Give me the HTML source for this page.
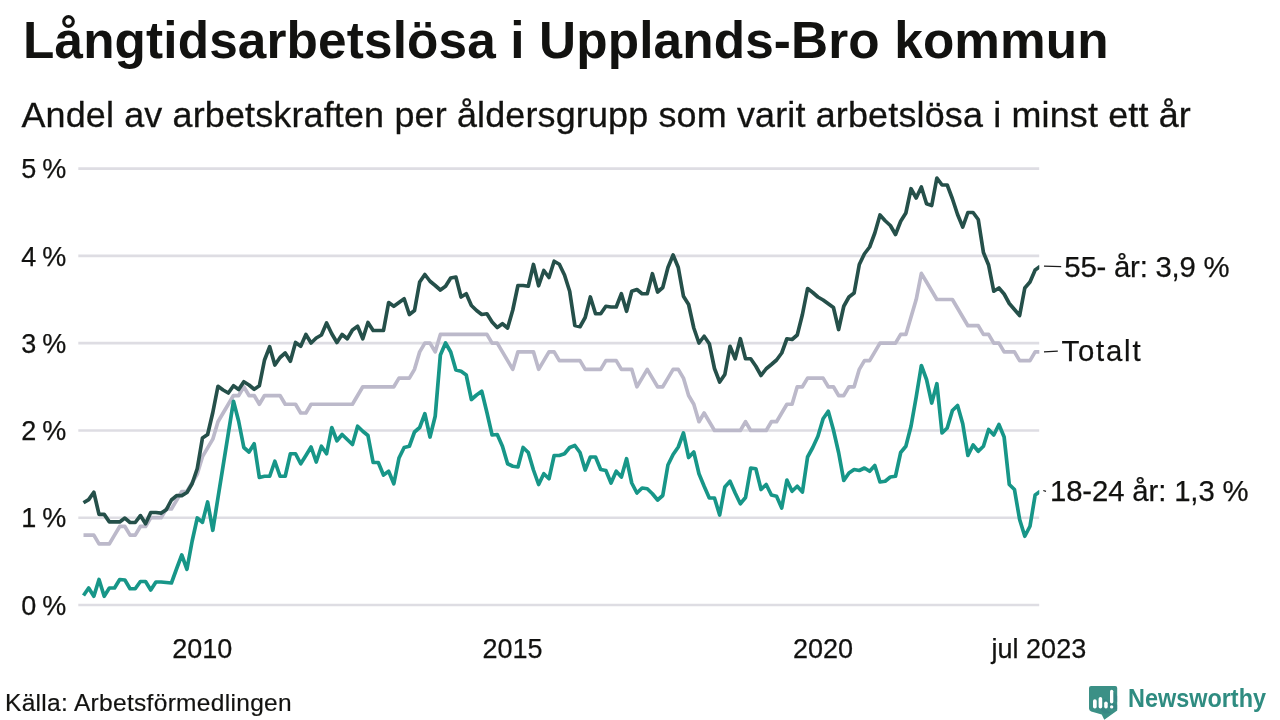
<!DOCTYPE html>
<html><head><meta charset="utf-8"><style>
html,body{margin:0;padding:0;background:#ffffff;}
body{width:1280px;height:720px;overflow:hidden;position:relative;font-family:"Liberation Sans",sans-serif;}
svg{position:absolute;left:0;top:0;will-change:transform;}
text{font-family:"Liberation Sans",sans-serif;fill:#121210;}
.title{font-weight:bold;font-size:51.3px;letter-spacing:0.14px;}
.sub{font-size:35.9px;letter-spacing:0.17px;stroke:#121210;stroke-width:0.3px;}
.ax{font-size:27px;stroke:#121210;stroke-width:0.25px;}
.yl{word-spacing:-1.6px;}
.lab{font-size:29.3px;stroke:#121210;stroke-width:0.25px;}
.src{font-size:24.5px;letter-spacing:0.31px;stroke:#121210;stroke-width:0.2px;}
.nw{font-weight:bold;font-size:26px;fill:#2f8c81;}
</style></head><body>
<svg width="1280" height="720" viewBox="0 0 1280 720">
<text x="23.0" y="57.5" class="title">Långtidsarbetslösa i Upplands-Bro kommun</text>
<text x="21.4" y="127.4" class="sub">Andel av arbetskraften per åldersgrupp som varit arbetslösa i minst ett år</text>
<line x1="78.3" y1="605.00" x2="1039.2" y2="605.00" stroke="#dedde3" stroke-width="2.6"/>
<line x1="78.3" y1="517.72" x2="1039.2" y2="517.72" stroke="#dedde3" stroke-width="2.6"/>
<line x1="78.3" y1="430.44" x2="1039.2" y2="430.44" stroke="#dedde3" stroke-width="2.6"/>
<line x1="78.3" y1="343.16" x2="1039.2" y2="343.16" stroke="#dedde3" stroke-width="2.6"/>
<line x1="78.3" y1="255.88" x2="1039.2" y2="255.88" stroke="#dedde3" stroke-width="2.6"/>
<line x1="78.3" y1="168.60" x2="1039.2" y2="168.60" stroke="#dedde3" stroke-width="2.6"/>
<text x="66.3" y="614.70" text-anchor="end" class="ax yl">0&#160;%</text>
<text x="66.3" y="527.42" text-anchor="end" class="ax yl">1&#160;%</text>
<text x="66.3" y="440.14" text-anchor="end" class="ax yl">2&#160;%</text>
<text x="66.3" y="352.86" text-anchor="end" class="ax yl">3&#160;%</text>
<text x="66.3" y="265.58" text-anchor="end" class="ax yl">4&#160;%</text>
<text x="66.3" y="178.30" text-anchor="end" class="ax yl">5&#160;%</text>
<text x="202.30" y="658.2" text-anchor="middle" class="ax">2010</text>
<text x="512.50" y="658.2" text-anchor="middle" class="ax">2015</text>
<text x="823.00" y="658.2" text-anchor="middle" class="ax">2020</text>
<text x="1038.90" y="658.2" text-anchor="middle" class="ax">jul 2023</text>

<defs><clipPath id="pc"><rect x="70" y="150" width="969.3" height="470"/></clipPath></defs>
<g clip-path="url(#pc)">
<polyline fill="none" stroke="#bcb9ca" stroke-width="3.7" stroke-linejoin="round" stroke-linecap="butt" points="83.50,535.18 88.67,535.18 93.84,535.18 99.02,543.90 104.19,543.90 109.36,543.90 114.53,535.18 119.70,526.45 124.88,526.45 130.05,535.18 135.22,535.18 140.39,526.45 145.56,526.45 150.74,517.72 155.91,517.72 161.08,517.72 166.25,508.99 171.42,508.99 176.60,500.26 181.77,491.54 186.94,491.54 192.11,482.81 197.28,474.08 202.46,456.62 207.63,447.90 212.80,439.17 217.97,421.71 223.14,412.98 228.32,404.26 233.49,395.53 238.66,395.53 243.83,386.80 249.00,395.53 254.18,395.53 259.35,404.26 264.52,395.53 269.69,395.53 274.86,395.53 280.04,395.53 285.21,404.26 290.38,404.26 295.55,404.26 300.72,412.98 305.90,412.98 311.07,404.26 316.24,404.26 321.41,404.26 326.58,404.26 331.76,404.26 336.93,404.26 342.10,404.26 347.27,404.26 352.44,404.26 357.62,395.53 362.79,386.80 367.96,386.80 373.13,386.80 378.30,386.80 383.48,386.80 388.65,386.80 393.82,386.80 398.99,378.07 404.16,378.07 409.34,378.07 414.51,369.34 419.68,351.89 424.85,343.16 430.02,343.16 435.20,351.89 440.37,334.43 445.54,334.43 450.71,334.43 455.88,334.43 461.06,334.43 466.23,334.43 471.40,334.43 476.57,334.43 481.74,334.43 486.92,334.43 492.09,343.16 497.26,343.16 502.43,351.89 507.60,360.62 512.78,369.34 517.95,351.89 523.12,351.89 528.29,351.89 533.46,351.89 538.64,369.34 543.81,360.62 548.98,351.89 554.15,351.89 559.32,360.62 564.50,360.62 569.67,360.62 574.84,360.62 580.01,360.62 585.18,369.34 590.36,369.34 595.53,369.34 600.70,369.34 605.87,360.62 611.04,360.62 616.22,360.62 621.39,369.34 626.56,369.34 631.73,369.34 636.90,386.80 642.08,378.07 647.25,369.34 652.42,378.07 657.59,386.80 662.76,386.80 667.94,378.07 673.11,369.34 678.28,369.34 683.45,378.07 688.62,395.53 693.80,404.26 698.97,421.71 704.14,412.98 709.31,421.71 714.48,430.44 719.66,430.44 724.83,430.44 730.00,430.44 735.17,430.44 740.34,430.44 745.52,421.71 750.69,430.44 755.86,430.44 761.03,430.44 766.20,430.44 771.38,421.71 776.55,421.71 781.72,412.98 786.89,404.26 792.06,404.26 797.24,386.80 802.41,386.80 807.58,378.07 812.75,378.07 817.92,378.07 823.10,378.07 828.27,386.80 833.44,386.80 838.61,395.53 843.78,395.53 848.96,386.80 854.13,386.80 859.30,369.34 864.47,360.62 869.64,360.62 874.82,351.89 879.99,343.16 885.16,343.16 890.33,343.16 895.50,343.16 900.68,334.43 905.85,334.43 911.02,316.98 916.19,299.52 921.36,273.34 926.54,282.06 931.71,290.79 936.88,299.52 942.05,299.52 947.22,299.52 952.40,299.52 957.57,308.25 962.74,316.98 967.91,325.70 973.08,325.70 978.26,325.70 983.43,334.43 988.60,334.43 993.77,343.16 998.94,343.16 1004.12,351.89 1009.29,351.89 1014.46,351.89 1019.63,360.62 1024.80,360.62 1029.98,360.62 1035.15,351.89 1040.32,351.89"/>
<polyline fill="none" stroke="#179688" stroke-width="3.7" stroke-linejoin="round" stroke-linecap="butt" points="83.50,595.50 88.67,588.00 93.84,596.25 99.02,579.50 104.19,596.25 109.36,588.00 114.53,588.00 119.70,579.50 124.88,580.00 130.05,588.75 135.22,588.75 140.39,581.50 145.56,581.50 150.74,590.00 155.91,582.00 161.08,582.00 166.25,582.50 171.42,583.00 176.60,568.75 181.77,555.00 186.94,569.25 192.11,541.25 197.28,518.00 202.46,522.25 207.63,502.00 212.80,530.30 217.97,497.80 223.14,465.60 228.32,433.40 233.49,401.25 238.66,421.25 243.83,447.50 249.00,452.00 254.18,443.75 259.35,477.50 264.52,476.25 269.69,476.25 274.86,461.25 280.04,476.25 285.21,476.25 290.38,453.75 295.55,453.75 300.72,463.75 305.90,455.50 311.07,447.00 316.24,462.00 321.41,446.25 326.58,453.75 331.76,427.50 336.93,440.75 342.10,434.50 347.27,439.50 352.44,444.50 357.62,426.25 362.79,431.25 367.96,435.50 373.13,462.50 378.30,462.50 383.48,475.00 388.65,471.25 393.82,483.75 398.99,458.00 404.16,447.50 409.34,446.25 414.51,432.00 419.68,427.50 424.85,413.75 430.02,437.00 435.20,416.25 440.37,355.00 445.54,343.00 450.71,352.00 455.88,370.00 461.06,371.25 466.23,375.00 471.40,399.50 476.57,395.00 481.74,391.25 486.92,412.50 492.09,435.00 497.26,434.50 502.43,446.25 507.60,463.75 512.78,466.25 517.95,467.00 523.12,447.50 528.29,452.50 533.46,470.00 538.64,484.50 543.81,473.75 548.98,478.75 554.15,455.50 559.32,455.50 564.50,453.75 569.67,447.50 574.84,445.50 580.01,452.50 585.18,470.00 590.36,457.00 595.53,457.00 600.70,469.50 605.87,470.50 611.04,483.00 616.22,471.25 621.39,477.00 626.56,458.75 631.73,483.00 636.90,493.00 642.08,488.00 647.25,488.75 652.42,493.75 657.59,500.00 662.76,495.50 667.94,465.00 673.11,454.50 678.28,447.00 683.45,433.00 688.62,457.50 693.80,452.00 698.97,473.75 704.14,486.25 709.31,498.00 714.48,498.00 719.66,515.00 724.83,487.00 730.00,481.25 735.17,493.00 740.34,503.75 745.52,497.50 750.69,468.00 755.86,468.75 761.03,489.50 766.20,484.50 771.38,495.00 776.55,496.25 781.72,508.00 786.89,480.00 792.06,491.25 797.24,486.25 802.41,492.00 807.58,457.00 812.75,447.50 817.92,436.25 823.10,418.75 828.27,411.25 833.44,430.00 838.61,452.50 843.78,480.50 848.96,473.00 854.13,469.50 859.30,470.50 864.47,468.00 869.64,471.25 874.82,465.50 879.99,482.00 885.16,481.25 890.33,477.00 895.50,476.25 900.68,452.50 905.85,446.25 911.02,426.25 916.19,397.00 921.36,365.50 926.54,379.50 931.71,403.00 936.88,383.75 942.05,433.00 947.22,428.00 952.40,410.50 957.57,405.50 962.74,423.75 967.91,455.50 973.08,445.00 978.26,451.25 983.43,446.25 988.60,429.50 993.77,435.00 998.94,424.50 1004.12,437.00 1009.29,484.50 1014.46,489.50 1019.63,519.50 1024.80,536.25 1029.98,526.25 1035.15,495.00 1040.32,491.25"/>
<polyline fill="none" stroke="#25504a" stroke-width="3.7" stroke-linejoin="round" stroke-linecap="butt" points="83.50,502.75 88.67,499.60 93.84,492.25 99.02,514.40 104.19,514.40 109.36,521.90 114.53,521.90 119.70,521.90 124.88,518.10 130.05,522.50 135.22,522.50 140.39,515.60 145.56,523.75 150.74,512.50 155.91,512.50 161.08,513.10 166.25,509.75 171.42,500.00 176.60,495.60 181.77,495.60 186.94,492.50 192.11,483.75 197.28,468.50 202.46,438.00 207.63,434.50 212.80,412.50 217.97,386.25 223.14,390.00 228.32,393.00 233.49,385.75 238.66,389.50 243.83,381.75 249.00,385.00 254.18,389.25 259.35,385.75 264.52,360.00 269.69,346.75 274.86,365.00 280.04,357.50 285.21,353.00 290.38,361.25 295.55,342.50 300.72,346.25 305.90,334.50 311.07,343.00 316.24,338.00 321.41,335.00 326.58,323.00 331.76,333.75 336.93,342.50 342.10,334.50 347.27,338.75 352.44,330.00 357.62,326.25 362.79,338.75 367.96,322.50 373.13,330.50 378.30,330.50 383.48,330.50 388.65,302.50 393.82,306.25 398.99,302.50 404.16,298.75 409.34,314.50 414.51,310.50 419.68,282.00 424.85,274.50 430.02,281.25 435.20,285.50 440.37,290.00 445.54,286.25 450.71,278.00 455.88,277.00 461.06,297.00 466.23,293.75 471.40,305.50 476.57,310.50 481.74,314.50 486.92,313.75 492.09,322.00 497.26,327.50 502.43,323.75 507.60,328.00 512.78,310.00 517.95,285.50 523.12,285.50 528.29,286.25 533.46,264.50 538.64,285.75 543.81,270.50 548.98,277.50 554.15,261.25 559.32,264.25 564.50,275.00 569.67,291.25 574.84,325.50 580.01,326.75 585.18,317.50 590.36,297.00 595.53,313.75 600.70,313.75 605.87,306.25 611.04,307.00 616.22,307.00 621.39,293.75 626.56,311.25 631.73,291.25 636.90,289.50 642.08,293.75 647.25,293.75 652.42,273.75 657.59,292.00 662.76,287.50 667.94,267.50 673.11,255.00 678.28,267.50 683.45,296.25 688.62,304.50 693.80,328.00 698.97,343.00 704.14,336.25 709.31,343.75 714.48,368.50 719.66,382.00 724.83,374.50 730.00,346.25 735.17,358.75 740.34,338.75 745.52,358.75 750.69,358.75 755.86,366.25 761.03,375.50 766.20,368.75 771.38,364.50 776.55,360.00 781.72,353.00 786.89,338.75 792.06,339.50 797.24,335.00 802.41,314.50 807.58,288.50 812.75,292.50 817.92,297.00 823.10,300.00 828.27,303.75 833.44,307.50 838.61,329.50 843.78,306.25 848.96,297.00 854.13,293.00 859.30,264.50 864.47,253.75 869.64,247.00 874.82,233.00 879.99,215.00 885.16,220.75 890.33,225.50 895.50,234.50 900.68,221.25 905.85,213.00 911.02,188.75 916.19,198.00 921.36,187.00 926.54,203.75 931.71,205.50 936.88,178.00 942.05,185.00 947.22,185.00 952.40,198.75 957.57,214.50 962.74,227.00 967.91,212.50 973.08,212.50 978.26,219.50 983.43,252.50 988.60,265.00 993.77,291.25 998.94,288.00 1004.12,294.00 1009.29,303.50 1014.46,309.50 1019.63,315.50 1024.80,288.00 1029.98,282.00 1035.15,270.00 1040.32,266.25"/>
</g>
<line x1="1044" y1="266.1" x2="1061.2" y2="266.6" stroke="#1c1c1c" stroke-width="1.25"/>
<line x1="1044" y1="351.8" x2="1057.8" y2="351.1" stroke="#1c1c1c" stroke-width="1.25"/>
<line x1="1043.3" y1="490.5" x2="1046" y2="491.3" stroke="#1c1c1c" stroke-width="1.25"/>
<text x="1064.3" y="277" class="lab" style="letter-spacing:-0.2px">55- år: 3,9 %</text>
<text x="1061.5" y="361.3" class="lab" style="letter-spacing:1.8px">Totalt</text>
<text x="1050" y="501.3" class="lab" style="letter-spacing:-0.12px">18-24 år: 1,3 %</text>
<text x="5" y="711.3" class="src">Källa: Arbetsförmedlingen</text>
<g>
<path d="M1091 686 H1115.2 Q1117.2 686 1117.2 688 V710.5 L1104.3 719.7 L1101.7 714.5 L1091.2 711.4 Q1089 710.8 1089 708.6 V688 Q1089 686 1091 686 Z" fill="#3b9086"/>
<path d="M1096.7 706 L1104 713.5 L1111 713 L1098.8 704 Z M1102.2 700 L1110 709 L1117.2 709 L1117.2 705 L1104 699 Z M1113.3 692 L1117.2 696 L1117.2 702 L1113.3 700 Z" fill="#347f84" opacity="0.55"/>
<rect x="1093" y="699.2" width="3.7" height="9.4" rx="1.8" fill="#fff"/>
<rect x="1098.6" y="697" width="3.6" height="11.6" rx="1.8" fill="#fff"/>
<rect x="1104.2" y="701.5" width="3.5" height="7.1" rx="1.75" fill="#fff"/>
<rect x="1110" y="689.7" width="3.3" height="13.7" rx="1.65" fill="#fff"/>
<rect x="1110" y="705.2" width="3.3" height="3.4" rx="1.65" fill="#fff"/>
</g>
<text x="1128" y="707.4" class="nw" textLength="138" lengthAdjust="spacingAndGlyphs">Newsworthy</text>
</svg>
</body></html>
